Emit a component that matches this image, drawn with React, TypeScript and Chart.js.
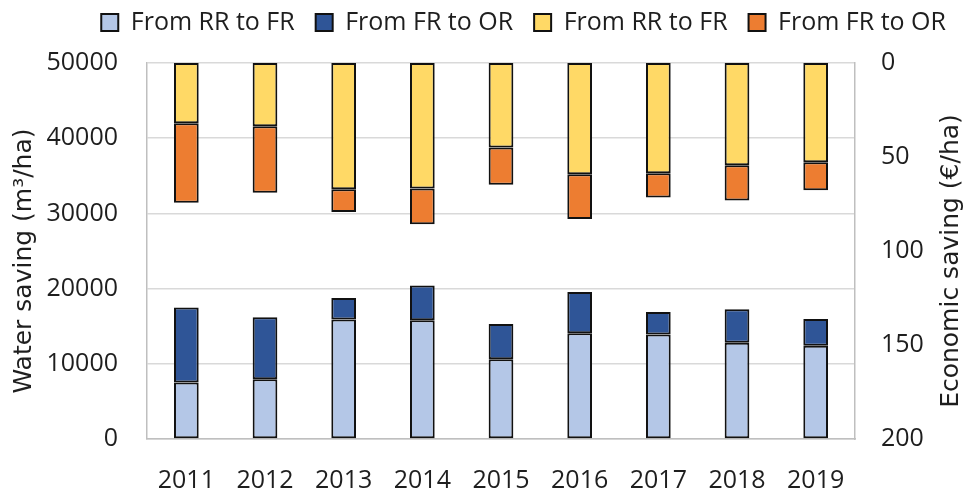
import React, { useEffect, useRef } from "react";
import { Chart, registerables } from "chart.js";

Chart.register(...registerables);

const years = ["2011", "2012", "2013", "2014", "2015", "2016", "2017", "2018", "2019"];
// Water saving (m³/ha), left axis
const waterRRtoFR = [7500, 7950, 15900, 15800, 10600, 14050, 13900, 12800, 12400];
const waterFRtoOR = [10000, 8250, 2850, 4600, 4700, 5500, 3000, 4450, 3550];
// Economic saving (€/ha), right axis (reversed)
const ecoRRtoFR = [32, 33.7, 67.2, 66.7, 44.9, 59.2, 58.7, 54.4, 52.8];
const ecoFRtoOR = [42.3, 35.3, 12.1, 19.1, 19.8, 23.8, 12.8, 18.8, 14.9];

const leftTitle = "Water saving (m³/ha)";
const rightTitle = "Economic saving (€/ha)";

const FONT = "'Open Sans', 'DejaVu Sans', sans-serif";
const TITLE_FONT = "'DejaVu Sans', 'Open Sans', sans-serif";
const TXT = "#1e1e1e";

const legendSpacer = {
  id: "legendSpacer",
  beforeLayout(chart: any) {
    const lg = chart.legend;
    if (lg && !lg._patched) {
      const orig = lg.fit.bind(lg);
      lg.fit = function () {
        orig();
        this.height = 74;
      };
      lg._patched = true;
    }
  },
};

const axisTitlesPlugin = {
  id: "axisTitlesPlugin",
  afterDraw(chart: any) {
    const ctx = chart.ctx;
    const area = chart.chartArea;
    const cy = (area.top + area.bottom) / 2 + 10;
    const draw = (text: string, x: number) => {
      ctx.save();
      ctx.translate(x, cy);
      ctx.rotate(-Math.PI / 2);
      ctx.font = `25px ${TITLE_FONT}`;
      ctx.fillStyle = TXT;
      ctx.textAlign = "center";
      ctx.textBaseline = "middle";
      ctx.fillText(text, 0, 0);
      ctx.restore();
    };
    draw(leftTitle, chart.scales.y.left + 24);
    draw(rightTitle, chart.scales.y1.right - 16);
  },
};

export default function App() {
  const ref = useRef<HTMLCanvasElement>(null);
  useEffect(() => {
    if (!ref.current) return;
    const common = {
      borderColor: "#111111",
      borderWidth: 2,
      borderSkipped: false,
      barPercentage: 0.314,
      categoryPercentage: 1,
      grouped: false,
      stack: "s",
    };
    const chart = new Chart(ref.current, {
      type: "bar",
      data: {
        labels: years,
        datasets: [
          { ...common, label: "From RR to FR", data: waterRRtoFR, backgroundColor: "#B4C7E7", yAxisID: "y" },
          { ...common, label: "From FR to OR", data: waterFRtoOR, backgroundColor: "#2F5597", yAxisID: "y" },
          { ...common, label: "From RR to FR", data: ecoRRtoFR, backgroundColor: "#FFD966", yAxisID: "y1" },
          { ...common, label: "From FR to OR", data: ecoFRtoOR, backgroundColor: "#ED7D31", yAxisID: "y1" },
        ] as any,
      },
      plugins: [legendSpacer, axisTitlesPlugin],
      options: {
        animation: false,
        responsive: true,
        maintainAspectRatio: false,
        layout: { padding: { top: -11, left: 0, right: 0, bottom: 0 } },
        plugins: {
          tooltip: { enabled: false },
          legend: {
            position: "top",
            align: "end",
            labels: {
              boxWidth: 17,
              boxHeight: 17,
              padding: 21,
              color: TXT,
              font: { family: FONT, size: 25 },
            },
          },
        },
        scales: {
          x: {
            stacked: true,
            grid: { display: false },
            border: { display: true, color: "#BFBFBF", width: 1.5 },
            ticks: { color: TXT, font: { family: FONT, size: 25 }, padding: 19 },
            afterFit: (s: any) => {
              s.height = 49;
            },
          },
          y: {
            position: "left",
            stacked: true,
            min: 0,
            max: 50000,
            ticks: {
              stepSize: 10000,
              color: TXT,
              font: { family: FONT, size: 25 },
              padding: 29,
              callback: (v: any) => String(v),
            },
            grid: { color: "#D9D9D9", lineWidth: 1.5, drawTicks: false },
            border: { display: true, color: "#BFBFBF", width: 1.5 },
            afterFit: (s: any) => {
              s.width = 147;
            },
          },
          y1: {
            position: "right",
            stacked: true,
            reverse: true,
            min: 0,
            max: 200,
            ticks: {
              stepSize: 50,
              color: TXT,
              font: { family: FONT, size: 25 },
              padding: 26,
            },
            grid: { display: false, drawTicks: false },
            border: { display: true, color: "#BFBFBF", width: 1.5 },
            afterFit: (s: any) => {
              s.width = 112;
            },
          },
        },
      } as any,
    });
    return () => chart.destroy();
  }, []);
  return (
    <div style={{ position: "absolute", left: 0, top: 0, width: 967, height: 488 }}>
      <canvas ref={ref} />
    </div>
  );
}
